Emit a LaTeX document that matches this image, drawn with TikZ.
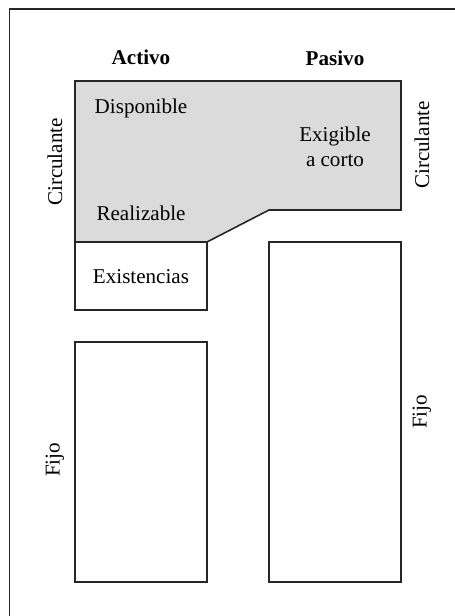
\documentclass[tikz,border=0pt]{standalone}
\usepackage{fontspec}
\setmainfont{Liberation Serif}
\definecolor{circgray}{gray}{0.86}
\tikzset{
  caja/.style={draw=black!85,line width=0.9pt},
  rotulo/.style={font=\fontsize{12}{14}\selectfont},
  titulo/.style={font=\fontsize{12}{14}\selectfont\bfseries},
  lateral/.style={font=\fontsize{12}{14}\selectfont,rotate=90}
}
\begin{document}
\begin{tikzpicture}
	\useasboundingbox (0,0) rectangle (9.10,12.32) ;
	% marco
	\draw[black!85,line width=1.1pt] (0.19,-0.20) -- (0.19,12.14) -- (9.30,12.14) ;
	% titulos
	\node[titulo] (activo) at (2.82,11.18) {Activo} ;
	\node[titulo] (pasivo) at (6.70,11.16) {Pasivo} ;
	% circulante
	\draw[caja,fill=circgray] (1.50,10.70) -- (8.02,10.70) -- (8.02,8.12) -- (5.38,8.12) -- (4.14,7.48) -- (1.50,7.48) -- cycle ;
	\draw[caja] (1.50,7.48) rectangle (4.14,6.12) ;
	% fijo
	\draw[caja] (1.50,5.48) rectangle (4.14,0.68) ;
	\draw[caja] (5.38,7.48) rectangle (8.02,0.68) ;
	% textos
	\node[rotulo] (disp) at (2.82,10.16) {Disponible} ;
	\node[rotulo,align=center] (exig) at (6.70,9.38) {Exigible\\a corto} ;
	\node[rotulo] (real) at (2.82,8.06) {Realizable} ;
	\node[rotulo] (exist) at (2.82,6.78) {Existencias} ;
	\node[lateral] (circA) at (1.10,9.08) {Circulante} ;
	\node[lateral] (circP) at (8.44,9.42) {Circulante} ;
	\node[lateral] (fijoA) at (1.10,3.12) {Fijo} ;
	\node[lateral] (fijoP) at (8.44,4.08) {Fijo} ;
\end{tikzpicture}
\end{document}
